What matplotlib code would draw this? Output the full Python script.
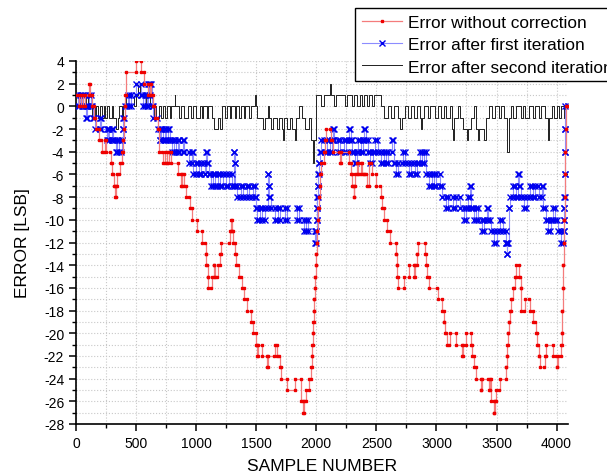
import numpy as np
import matplotlib
matplotlib.use("Agg")
import matplotlib.pyplot as plt
from matplotlib.ticker import MultipleLocator

# step data: (sample where the level starts, error in LSB)
red_steps = [
    (0, 1), (25, 0), (40, 1), (60, 0), (75, 1), (110, 2), (118, 1), (135, 0), (150, -1), (165, -2),
    (195, -3), (215, -4), (240, -3), (250, -4), (290, -5), (300, -6), (315, -7), (325, -8), (333, -7),
    (345, -6), (365, -5), (385, -4), (392, -3), (396, -2), (400, -1), (405, 0), (410, 1), (415, 3),
    (500, 4), (545, 3), (565, 2), (600, 1), (615, 2), (625, 1), (640, 0), (655, -1), (680, -2),
    (690, -4), (720, -5), (740, -4), (760, -5), (770, -4), (790, -5), (850, -6), (875, -7), (885, -6),
    (900, -7), (915, -8), (945, -9), (965, -10), (1010, -11), (1050, -12), (1080, -13), (1085, -14),
    (1095, -15), (1100, -16), (1130, -15), (1150, -14), (1155, -15), (1180, -14), (1200, -13),
    (1210, -12), (1280, -11), (1290, -10), (1300, -11), (1310, -12), (1325, -13), (1335, -14),
    (1355, -15), (1380, -16), (1400, -17), (1425, -18), (1460, -19), (1475, -20), (1500, -21),
    (1510, -22), (1518, -21), (1550, -22), (1590, -23), (1600, -22), (1655, -21), (1675, -22),
    (1695, -23), (1710, -24), (1760, -25), (1825, -24), (1875, -26), (1890, -27), (1897, -26),
    (1915, -25), (1940, -24), (1960, -23), (1964, -22), (1968, -21), (1972, -20), (1976, -19),
    (1980, -18), (1984, -17), (1988, -16), (1992, -15), (1996, -14), (2000, -13), (2004, -12),
    (2008, -11), (2013, -10), (2018, -9), (2023, -8), (2028, -7), (2033, -6), (2040, -5), (2065, -4),
    (2075, -3), (2080, -2), (2120, -3), (2135, -4), (2195, -5), (2205, -4), (2275, -5), (2290, -6),
    (2300, -7), (2310, -8), (2315, -7), (2325, -6), (2340, -5), (2350, -6), (2370, -5), (2380, -6),
    (2400, -6), (2420, -7), (2440, -5), (2460, -6), (2500, -7), (2535, -8), (2550, -9), (2565, -10),
    (2590, -11), (2615, -12), (2664, -13), (2668, -14), (2675, -15), (2680, -16), (2730, -15),
    (2775, -14), (2815, -15), (2825, -14), (2840, -13), (2845, -12), (2905, -13), (2912, -14),
    (2925, -15), (2940, -16), (3010, -17), (3050, -18), (3065, -19), (3070, -20), (3085, -21),
    (3110, -20), (3165, -21), (3215, -22), (3222, -21), (3250, -20), (3290, -21), (3300, -22),
    (3315, -23), (3330, -24), (3370, -25), (3378, -24), (3435, -25), (3445, -24), (3455, -26),
    (3478, -27), (3485, -26), (3497, -25), (3525, -24), (3580, -23), (3585, -22), (3590, -21),
    (3595, -20), (3600, -19), (3610, -18), (3620, -17), (3635, -16), (3650, -15), (3662, -14),
    (3690, -15), (3700, -16), (3706, -18), (3735, -17), (3775, -18), (3803, -19), (3825, -20),
    (3840, -21), (3850, -22), (3858, -23), (3900, -22), (3914, -21), (3970, -22), (4000, -23),
    (4008, -22), (4040, -21), (4044, -20), (4048, -18), (4052, -16), (4056, -14), (4060, -12),
    (4064, -10), (4068, -8), (4071, -6), (4074, -4), (4077, -2), (4080, 0), (4095, 0),
]

blue_steps = [
    (0, 1), (15, 0), (30, 1), (50, 0), (60, 1), (75, 0), (85, -1), (95, 0), (105, 1), (125, 0),
    (140, -1), (155, -2), (200, -1), (210, -2), (260, -3), (268, -2), (278, -3), (300, -2), (310, -3),
    (330, -4), (345, -3), (360, -4), (380, -3), (390, -2), (395, -1), (405, 0), (430, 1), (445, 0),
    (460, 1), (500, 2), (540, 1), (555, 0), (575, 1), (590, 0), (600, 2), (610, 1), (620, 2), (630, 0),
    (645, -1), (680, -2), (700, -3), (705, -2), (720, -3), (740, -2), (750, -3), (765, -2), (780, -3),
    (800, -4), (815, -3), (830, -4), (850, -3), (860, -4), (890, -3), (900, -4), (940, -5), (965, -4),
    (975, -6), (1000, -5), (1020, -6), (1040, -5), (1070, -6), (1080, -4), (1090, -5), (1105, -6),
    (1120, -7), (1140, -6), (1160, -7), (1180, -6), (1200, -7), (1220, -6), (1250, -7), (1270, -6),
    (1300, -7), (1315, -4), (1320, -5), (1325, -7), (1340, -8), (1370, -7), (1390, -8), (1420, -7),
    (1440, -8), (1470, -7), (1490, -8), (1500, -9), (1510, -10), (1530, -9), (1550, -10), (1575, -9),
    (1600, -6), (1605, -7), (1610, -8), (1620, -9), (1660, -10), (1680, -9), (1700, -10), (1740, -9),
    (1760, -10), (1840, -9), (1860, -10), (1900, -11), (1915, -10), (1930, -11), (1990, -12),
    (1997, -11), (2002, -10), (2006, -9), (2010, -8), (2014, -7), (2018, -6), (2022, -5), (2028, -4),
    (2040, -3), (2070, -4), (2090, -3), (2110, -4), (2130, -3), (2140, -2), (2150, -3), (2180, -4),
    (2200, -3), (2230, -4), (2250, -3), (2275, -2), (2285, -3), (2300, -4), (2320, -5), (2335, -4),
    (2350, -3), (2370, -4), (2390, -3), (2400, -2), (2410, -3), (2430, -4), (2450, -5), (2470, -4),
    (2490, -3), (2510, -4), (2540, -5), (2560, -4), (2580, -5), (2600, -4), (2630, -3), (2645, -5),
    (2660, -6), (2680, -5), (2720, -4), (2740, -5), (2770, -6), (2790, -5), (2820, -6), (2840, -5),
    (2860, -4), (2880, -5), (2900, -4), (2915, -6), (2940, -7), (2960, -6), (2980, -7), (3000, -6),
    (3030, -7), (3050, -8), (3080, -9), (3100, -8), (3140, -9), (3160, -8), (3200, -9), (3230, -10),
    (3250, -9), (3265, -8), (3280, -7), (3290, -9), (3310, -10), (3330, -9), (3350, -10), (3380, -11),
    (3400, -10), (3420, -9), (3430, -10), (3450, -11), (3480, -12), (3500, -11), (3530, -10),
    (3550, -11), (3580, -12), (3585, -13), (3590, -12), (3600, -9), (3610, -8), (3640, -7), (3660, -8),
    (3680, -6), (3690, -7), (3700, -8), (3730, -9), (3750, -8), (3780, -7), (3800, -8), (3820, -7),
    (3850, -8), (3880, -7), (3890, -9), (3910, -10), (3930, -11), (3950, -10), (3970, -9),
    (3990, -10), (4010, -11), (4040, -12), (4060, -11), (4062, -10), (4064, -9), (4066, -8),
    (4068, -6), (4070, -4), (4072, -2), (4074, 0), (4095, 0),
]

black_steps = [
    (0, 1), (20, 0), (35, 1), (60, 0), (80, 1), (100, 0), (130, -1), (140, 0), (155, -1), (170, 0),
    (185, -1), (200, 0), (215, -1), (230, 0), (245, -1), (260, 0), (275, -1), (300, 0), (310, -1),
    (330, -2), (350, -1), (360, 0), (380, -1), (395, 0), (420, 1), (440, 0), (460, 1), (480, 0),
    (500, 1), (520, 2), (530, 1), (560, 0), (580, 1), (620, 0), (640, -1), (650, 0), (670, -1),
    (690, 0), (705, -1), (720, 0), (740, -1), (760, 0), (780, -1), (790, 0), (820, 1), (828, 0),
    (860, -1), (875, 0), (900, -1), (930, 0), (960, -1), (975, 0), (1000, -1), (1030, 0), (1050, -1),
    (1060, 0), (1090, -1), (1100, 0), (1130, -1), (1150, -2), (1180, -1), (1195, -2), (1215, 0),
    (1240, -1), (1260, 0), (1280, -1), (1290, 0), (1320, -1), (1330, 0), (1360, -1), (1375, 0),
    (1400, -1), (1410, 0), (1440, -1), (1455, 0), (1490, 1), (1497, 0), (1505, -1), (1560, -2),
    (1570, -1), (1600, 0), (1610, -1), (1625, -2), (1640, -1), (1670, -2), (1690, -1), (1715, -2),
    (1725, -3), (1735, -1), (1760, -2), (1780, -1), (1800, -2), (1820, -3), (1830, -1), (1860, 0),
    (1880, -1), (1905, -2), (1940, -1), (1960, -3), (1975, -5), (1985, -3), (1995, -1), (2000, 1),
    (2040, 0), (2060, 1), (2110, 2), (2122, 1), (2150, 0), (2160, 1), (2240, 0), (2255, 1), (2300, 0),
    (2310, 1), (2340, 0), (2360, 1), (2380, 0), (2400, 1), (2420, 0), (2440, 1), (2460, 0), (2480, 1),
    (2540, 0), (2560, -1), (2600, 0), (2620, -1), (2650, 0), (2680, -1), (2700, -2), (2710, -1),
    (2740, 0), (2760, -1), (2790, 0), (2810, -1), (2840, 0), (2860, -1), (2870, -2), (2880, -1),
    (2900, 0), (2930, -1), (2950, 0), (2990, -1), (3010, 0), (3040, -1), (3060, 0), (3080, -1),
    (3110, 0), (3130, -2), (3140, -3), (3150, -1), (3180, 0), (3200, -1), (3220, -2), (3255, -3),
    (3265, -2), (3290, -1), (3310, 0), (3330, -2), (3345, -3), (3355, -2), (3400, -3), (3410, -1),
    (3440, 0), (3460, -1), (3490, 0), (3520, -1), (3540, 0), (3560, -1), (3590, -4), (3600, -1),
    (3620, 0), (3640, -1), (3660, 0), (3700, -1), (3720, 0), (3740, -1), (3770, 0), (3800, -1),
    (3820, 0), (3850, -1), (3870, 0), (3900, -1), (3930, -3), (3940, -1), (3960, 0), (3980, -1),
    (4000, 0), (4020, -1), (4040, 0), (4060, -1), (4066, -3), (4070, -6), (4095, -6),
]

labels = ["Error without correction", "Error after first iteration", "Error after second iteration"]

plt.rcParams['font.family'] = ['Liberation Sans', 'DejaVu Sans']
plt.rcParams['axes.unicode_minus'] = False

fig = plt.figure(figsize=(6.07, 4.77), dpi=100)
ax = fig.add_axes([76 / 607, 52 / 477, 492 / 607, 363 / 477])

bx, by = np.array(black_steps).T
ux, uy = np.array(blue_steps).T
rx, ry = np.array(red_steps).T

# black: plain line
ax.plot(bx, by, drawstyle='steps-post', color='#202020', lw=0.7, label=labels[2], zorder=2)

# blue: light line with x markers at both ends of every level
ax.plot(ux, uy, drawstyle='steps-post', color='#8c8cff', lw=0.8, marker='x', ms=4,
        mec='#0000ee', mew=1.0, label=labels[1], zorder=3)
ax.plot(ux[1:] - 3, uy[:-1], 'x', ms=4, mec='#0000ee', mew=1.0, zorder=3)

# red: light line with small square markers
ax.plot(rx, ry, drawstyle='steps-post', color='#f47c7c', lw=0.9, marker='s', ms=2.0,
        mfc='#ee0000', mec='#ee0000', label=labels[0], zorder=4)
ax.plot(rx[1:] - 3, ry[:-1], 's', ms=2.0, mfc='#ee0000', mec='#ee0000', zorder=4)

ax.set_xlim(0, 4095)
ax.set_ylim(-28, 4)
ax.xaxis.set_major_locator(MultipleLocator(500))
ax.xaxis.set_minor_locator(MultipleLocator(250))
ax.yaxis.set_major_locator(MultipleLocator(2))
ax.yaxis.set_minor_locator(MultipleLocator(1))

for side in ['top', 'right']:
    ax.spines[side].set_visible(False)
for side in ['left', 'bottom']:
    ax.spines[side].set_linewidth(1.2)

ax.tick_params(which='major', direction='out', length=5, width=1.1, labelsize=10)
ax.tick_params(which='minor', direction='out', length=3, width=1.0)

ax.grid(which='both', linestyle=':', color='#c8c8c8', lw=0.8)
ax.set_axisbelow(True)

ax.set_xlabel('SAMPLE NUMBER', fontsize=12.5, labelpad=6)
ax.set_ylabel('ERROR [LSB]', fontsize=12.5, labelpad=10)

handles, labs = ax.get_legend_handles_labels()
order = [labs.index(l) for l in labels]
leg = ax.legend([handles[i] for i in order], [labs[i] for i in order],
                loc='upper left', bbox_to_anchor=(355 / 607, 1 - 9 / 477),
                bbox_transform=fig.transFigure, borderaxespad=0, fontsize=12.4,
                frameon=True, fancybox=False, framealpha=1, edgecolor='black',
                handlelength=2.3, handletextpad=0.4, labelspacing=0.42, borderpad=0.4)
leg.get_frame().set_linewidth(1.0)

fig.savefig('out.png', dpi=100)
